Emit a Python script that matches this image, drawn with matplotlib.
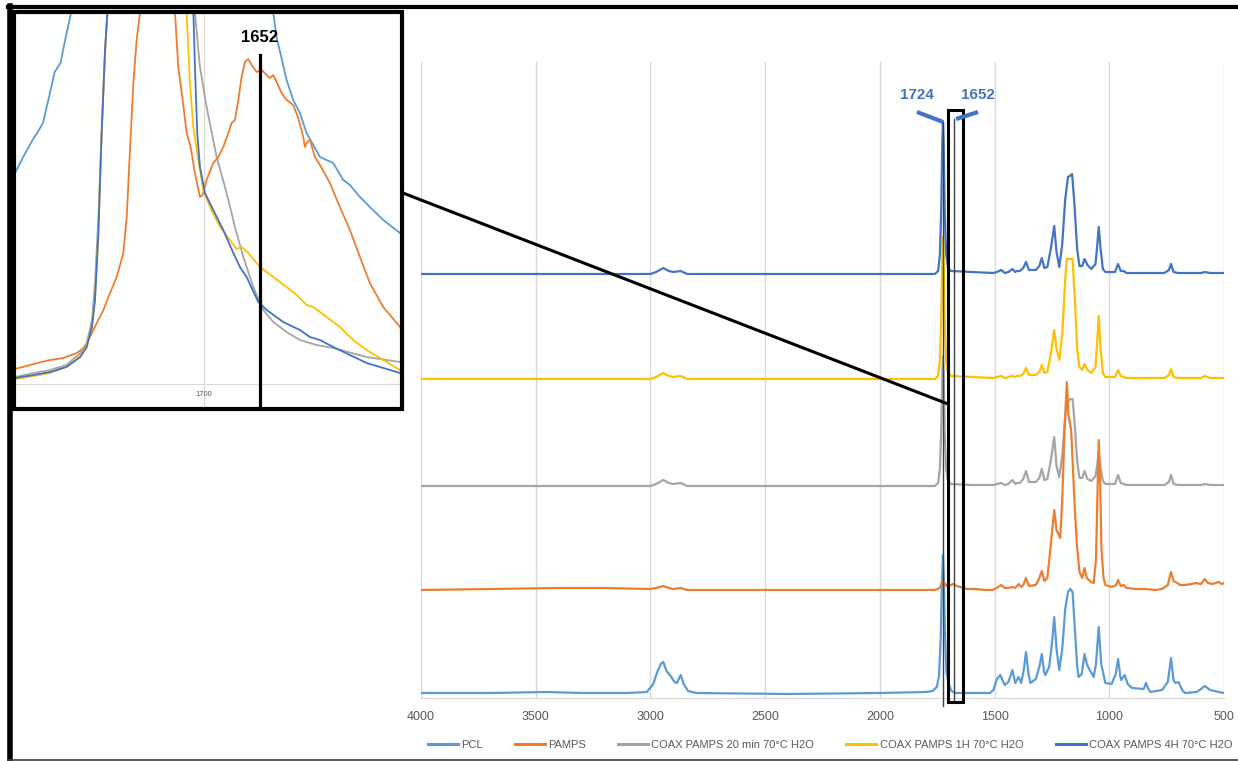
import matplotlib
matplotlib.use("Agg")
import matplotlib.pyplot as plt
import numpy as np
from matplotlib.lines import Line2D
from matplotlib.patches import Rectangle

plt.rcParams["font.family"] = ["Liberation Sans", "DejaVu Sans"]

# %% data (y in arbitrary absorbance units)

LABELS = ["PCL", "PAMPS", "COAX PAMPS 20 min 70°C H2O",
          "COAX PAMPS 1H 70°C H2O", "COAX PAMPS 4H 70°C H2O"]
COLORS = ["#5B9BD5", "#ED7D31", "#A5A5A5", "#FFC000", "#4472C4"]
OFFSETS = [0.04, 1.08, 2.12, 3.19, 4.24]

PCL_WN = [4000, 3700, 3450, 3300, 3100, 3016, 2988, 2970, 2955, 2944, 2930, 2912, 2895,
          2885, 2868, 2855, 2836, 2800, 2400, 2000, 1800, 1770, 1752, 1742, 1735, 1729,
          1725, 1721, 1716, 1710, 1700, 1688, 1670, 1520, 1505, 1490, 1475, 1456, 1440,
          1422, 1410, 1395, 1384, 1372, 1363, 1352, 1344, 1320, 1304, 1294, 1284, 1279,
          1262, 1250, 1240, 1230, 1218, 1205, 1192, 1180, 1170, 1160, 1150, 1140, 1134,
          1120, 1108, 1098, 1090, 1068, 1058, 1046, 1035, 1017, 990, 972, 962, 952, 948,
          933, 920, 901, 850, 840, 830, 821, 770, 745, 731, 720, 712, 698, 680, 669, 620,
          600, 584, 560, 523, 500]
PCL_A = [0.01, 0.01, 0.02, 0.01, 0.01, 0.02, 0.10, 0.22, 0.30, 0.32, 0.23, 0.18, 0.12,
         0.11, 0.19, 0.10, 0.03, 0.01, 0.00, 0.01, 0.02, 0.03, 0.07, 0.18, 0.55, 1.15,
         1.39, 1.15, 0.60, 0.22, 0.10, 0.03, 0.01, 0.01, 0.04, 0.15, 0.19, 0.09, 0.12,
         0.24, 0.11, 0.17, 0.11, 0.25, 0.42, 0.20, 0.11, 0.15, 0.28, 0.40, 0.22, 0.19,
         0.27, 0.50, 0.77, 0.45, 0.24, 0.45, 0.85, 1.02, 1.05, 1.02, 0.65, 0.28, 0.17,
         0.20, 0.40, 0.30, 0.26, 0.17, 0.30, 0.67, 0.30, 0.11, 0.10, 0.20, 0.35, 0.18, 0.14,
         0.19, 0.10, 0.06, 0.05, 0.11, 0.05, 0.02, 0.04, 0.12, 0.36, 0.14, 0.11, 0.12, 0.03,
         0.01, 0.02, 0.05, 0.08, 0.04, 0.02, 0.01]

PAMPS_WN = [4000, 3700, 3400, 3200, 3000, 2975, 2944, 2920, 2900, 2868, 2840, 2000, 1760,
            1740, 1730, 1724, 1718, 1710, 1700, 1690, 1680, 1665, 1650, 1620, 1580, 1540,
            1510, 1490, 1471, 1455, 1440, 1422, 1410, 1395, 1384, 1375, 1363, 1350, 1320,
            1305, 1294, 1283, 1270, 1255, 1240, 1230, 1214, 1205, 1195, 1185, 1178, 1166,
            1160, 1150, 1141, 1130, 1118, 1108, 1098, 1080, 1068, 1058, 1052, 1046, 1040,
            1034, 1025, 1017, 990, 970, 962, 950, 937, 925, 880, 840, 800, 770, 745, 731,
            720, 712, 690, 669, 640, 625, 600, 584, 570, 550, 523, 510, 500]
PAMPS_A = [0.00, 0.01, 0.02, 0.02, 0.01, 0.02, 0.04, 0.02, 0.01, 0.02, 0.00, 0.00, 0.00,
           0.02, 0.07, 0.09, 0.07, 0.04, 0.04, 0.05, 0.06, 0.04, 0.03, 0.01, 0.01, 0.00,
           0.00, 0.02, 0.05, 0.02, 0.02, 0.03, 0.02, 0.06, 0.03, 0.05, 0.12, 0.04, 0.05,
           0.12, 0.19, 0.09, 0.12, 0.45, 0.80, 0.60, 0.52, 0.90, 1.60, 2.08, 1.75, 1.60,
           1.30, 0.80, 0.45, 0.18, 0.12, 0.22, 0.12, 0.08, 0.07, 0.30, 0.90, 1.50, 1.10,
           0.40, 0.12, 0.05, 0.03, 0.05, 0.10, 0.04, 0.05, 0.02, 0.01, 0.01, 0.00, 0.01,
           0.05, 0.18, 0.09, 0.08, 0.05, 0.05, 0.06, 0.07, 0.06, 0.11, 0.07, 0.06, 0.08,
           0.06, 0.07]

MIN20_WN = [4000, 3000, 2975, 2944, 2920, 2900, 2868, 2840, 1760, 1746, 1738, 1732, 1728,
            1725, 1722, 1717, 1711, 1703, 1690, 1600, 1505, 1490, 1471, 1455, 1440, 1422,
            1410, 1403, 1390, 1375, 1363, 1350, 1320, 1305, 1294, 1283, 1270, 1255, 1240,
            1230, 1218, 1205, 1192, 1178, 1170, 1160, 1150, 1140, 1130, 1118, 1108, 1095,
            1078, 1060, 1052, 1046, 1038, 1028, 1017, 975, 962, 950, 937, 925, 840, 760,
            740, 731, 720, 700, 600, 584, 560, 500]
MIN20_A = [0.00, 0.00, 0.02, 0.06, 0.03, 0.02, 0.03, 0.00, 0.00, 0.03, 0.18, 0.60, 1.10,
           1.30, 1.10, 0.50, 0.17, 0.05, 0.02, 0.01, 0.01, 0.02, 0.03, 0.01, 0.02, 0.06,
           0.02, 0.03, 0.03, 0.07, 0.15, 0.04, 0.04, 0.08, 0.17, 0.06, 0.07, 0.25, 0.49,
           0.20, 0.09, 0.30, 0.70, 0.85, 0.87, 0.87, 0.60, 0.25, 0.08, 0.08, 0.15, 0.07,
           0.05, 0.10, 0.22, 0.34, 0.18, 0.05, 0.02, 0.02, 0.11, 0.03, 0.02, 0.01, 0.01,
           0.01, 0.04, 0.11, 0.02, 0.01, 0.01, 0.02, 0.01, 0.01]

H1_WN = [4000, 3000, 2975, 2944, 2920, 2900, 2868, 2840, 1760, 1746, 1738, 1732, 1728,
         1725, 1722, 1717, 1711, 1703, 1690, 1600, 1505, 1490, 1471, 1455, 1440, 1422,
         1410, 1403, 1390, 1375, 1363, 1350, 1320, 1305, 1294, 1283, 1270, 1255, 1240,
         1230, 1218, 1205, 1192, 1185, 1160, 1150, 1140, 1130, 1118, 1108, 1095, 1078,
         1060, 1052, 1046, 1038, 1028, 1017, 975, 962, 950, 937, 925, 840, 760, 740,
         731, 720, 700, 600, 584, 560, 500]
H1_A = [0.00, 0.00, 0.02, 0.06, 0.03, 0.02, 0.03, 0.00, 0.00, 0.03, 0.20, 0.65, 1.20,
        1.42, 1.20, 0.55, 0.18, 0.06, 0.03, 0.02, 0.01, 0.02, 0.03, 0.01, 0.02, 0.03,
        0.02, 0.03, 0.03, 0.05, 0.11, 0.04, 0.04, 0.07, 0.14, 0.06, 0.07, 0.25, 0.49,
        0.30, 0.19, 0.45, 1.00, 1.20, 1.20, 0.80, 0.30, 0.12, 0.09, 0.15, 0.09, 0.06,
        0.12, 0.40, 0.63, 0.30, 0.06, 0.02, 0.02, 0.09, 0.03, 0.02, 0.01, 0.01, 0.01,
        0.04, 0.10, 0.02, 0.01, 0.01, 0.03, 0.01, 0.01]

H4_WN = [4000, 3000, 2975, 2944, 2920, 2900, 2868, 2840, 1760, 1746, 1738, 1732, 1728,
         1725, 1722, 1717, 1711, 1703, 1690, 1600, 1505, 1490, 1471, 1455, 1440, 1422,
         1410, 1403, 1390, 1375, 1363, 1350, 1320, 1305, 1294, 1283, 1270, 1255, 1240,
         1230, 1218, 1205, 1192, 1180, 1172, 1162, 1152, 1140, 1130, 1118, 1108, 1095,
         1078, 1060, 1052, 1046, 1038, 1028, 1017, 975, 962, 950, 937, 925, 840, 760,
         740, 731, 720, 700, 600, 584, 560, 500]
H4_A = [0.00, 0.00, 0.02, 0.06, 0.03, 0.02, 0.03, 0.00, 0.00, 0.03, 0.20, 0.70, 1.30,
        1.52, 1.30, 0.60, 0.20, 0.06, 0.03, 0.02, 0.01, 0.02, 0.04, 0.01, 0.02, 0.05,
        0.02, 0.03, 0.03, 0.06, 0.12, 0.04, 0.04, 0.08, 0.16, 0.06, 0.07, 0.25, 0.48,
        0.22, 0.07, 0.30, 0.75, 0.97, 0.98, 1.00, 0.70, 0.25, 0.08, 0.08, 0.15, 0.09,
        0.05, 0.10, 0.30, 0.47, 0.25, 0.05, 0.02, 0.02, 0.10, 0.03, 0.03, 0.01, 0.01,
        0.01, 0.04, 0.10, 0.02, 0.01, 0.01, 0.02, 0.01, 0.01]

SERIES_WN = [PCL_WN, PAMPS_WN, MIN20_WN, H1_WN, H4_WN]
SERIES_A = [PCL_A, PAMPS_A, MIN20_A, H1_A, H4_A]
ZORDERS = [2.0, 2.2, 2.1, 2.3, 2.4]

XTICKS = [4000, 3500, 3000, 2500, 2000, 1500, 1000, 500]
PEAK_MARK = 1724          # thin marker through the C=O peak
BAND_LABELS = ["1724", "1652"]
BOX_WN = (1704, 1639)     # highlighted band in the main chart
BOX_MARK = 1677           # thin line inside the highlighted band

# inset (zoom on the carbonyl region)
IN_PCL_WN = [1862, 1855, 1846, 1843, 1838, 1832, 1828, 1823, 1819, 1814, 1790, 1730,
             1680, 1640.5, 1637.7, 1629.1, 1623.4, 1617.7, 1612, 1600.5, 1589.1, 1580.5,
             1574.8, 1566.2, 1557.7, 1546.2, 1531.9]
IN_PCL_A = [2.11, 2.27, 2.46, 2.51, 2.61, 2.91, 3.12, 3.21, 3.44, 3.71, 4.6, 6.0,
            4.6, 3.71, 3.47, 3.04, 2.84, 2.71, 2.51, 2.27, 2.21, 2.04,
            1.99, 1.87, 1.77, 1.64, 1.51]

IN_PAMPS_WN = [1862, 1846, 1832, 1820.5, 1809, 1802, 1794.8, 1786.2, 1780.5, 1774.8,
               1769.1, 1766.2, 1763.4, 1760.5, 1757.7, 1754.8, 1740, 1724.8, 1722, 1718.2,
               1714.8, 1711.4, 1707.7, 1703.4, 1701.1, 1697.7, 1692, 1687.7, 1683.4,
               1679.1, 1676.2, 1673.4, 1670.5, 1667.7, 1664.8, 1662, 1659.1, 1654.8,
               1650.5, 1646.2, 1643.4, 1640.5, 1637.7, 1633.4, 1629.1, 1623.4, 1619.1,
               1614.8, 1613.4, 1612, 1609.1, 1604.8, 1600.5, 1592, 1583.4, 1574.8, 1566.2,
               1557.7, 1546.2, 1531.9]
IN_PAMPS_A = [0.15, 0.20, 0.24, 0.26, 0.31, 0.37, 0.54, 0.74, 0.91, 1.07,
              1.31, 1.67, 2.34, 3.01, 3.44, 3.71, 5.5, 3.71, 3.17, 2.84,
              2.51, 2.37, 2.11, 1.87, 1.89, 2.04, 2.21, 2.27, 2.37,
              2.51, 2.61, 2.64, 2.84, 3.07, 3.22, 3.25, 3.19, 3.12,
              3.14, 3.09, 3.06, 3.09, 3.02, 2.91, 2.84, 2.79, 2.66,
              2.47, 2.37, 2.41, 2.44, 2.27, 2.19, 2.01, 1.77, 1.54, 1.27,
              1.01, 0.77, 0.57]

IN_MIN20_WN = [1862, 1846, 1832, 1818, 1806, 1800.5, 1796, 1793.4, 1790.5, 1787.7,
               1784.8, 1782.8, 1750, 1707.7, 1703.4, 1697.7, 1689.1, 1680.5, 1673.4,
               1666.2, 1657.7, 1649.1, 1640.5, 1629.1, 1617.7, 1603.4, 1589.1, 1560.5,
               1531.9]
IN_MIN20_A = [0.07, 0.11, 0.14, 0.19, 0.31, 0.41, 0.64, 1.01, 1.67, 2.51,
              3.34, 3.71, 6.0, 3.71, 3.17, 2.77, 2.27, 1.91, 1.57,
              1.27, 0.97, 0.74, 0.62, 0.52, 0.44, 0.39, 0.36, 0.27,
              0.22]

IN_H1_WN = [1862, 1846, 1832, 1818, 1806, 1800.5, 1796, 1793.4, 1790.5, 1787.7, 1784.8,
            1782.8, 1750, 1714.8, 1712, 1709.1, 1704.8, 1700.5, 1694.8, 1686.2, 1677.7,
            1672, 1667.7, 1662, 1651.9, 1640.5, 1629.1, 1620.5, 1612, 1606.2, 1594.8,
            1583.4, 1572, 1560.5, 1546.2, 1531.9]
IN_H1_A = [0.05, 0.08, 0.11, 0.17, 0.28, 0.38, 0.58, 0.86, 1.50, 2.50, 3.30,
           3.71, 6.0, 3.71, 3.01, 2.57, 2.24, 1.94, 1.77, 1.57, 1.44,
           1.35, 1.37, 1.31, 1.17, 1.07, 0.97, 0.89, 0.79, 0.77, 0.67,
           0.57, 0.44, 0.34, 0.24, 0.14]

IN_H4_WN = [1862, 1846, 1832, 1818, 1806, 1800.5, 1796, 1793.4, 1790.5, 1787.7, 1784.8,
            1782.8, 1750, 1709, 1707.7, 1705.7, 1703.4, 1699.1, 1692, 1683.4, 1674.8,
            1669.1, 1663.4, 1653.4, 1646.2, 1632, 1617.7, 1609.1, 1600.5, 1589.1,
            1574.8, 1560.5, 1546.2, 1531.9]
IN_H4_A = [0.06, 0.09, 0.12, 0.17, 0.27, 0.37, 0.57, 0.84, 1.51, 2.51, 3.34,
           3.71, 6.0, 3.71, 3.17, 2.51, 2.17, 1.91, 1.74, 1.54, 1.31,
           1.17, 1.07, 0.82, 0.74, 0.62, 0.54, 0.47, 0.44, 0.37,
           0.29, 0.21, 0.16, 0.11]

INSET_WN = [IN_PCL_WN, IN_PAMPS_WN, IN_MIN20_WN, IN_H1_WN, IN_H4_WN]
INSET_A = [IN_PCL_A, IN_PAMPS_A, IN_MIN20_A, IN_H1_A, IN_H4_A]
INSET_TICKS = [1700]
INSET_MARK = 1652

# %% layout helpers (reference picture is 1238 x 761 px)

W, H = 1238, 761


def fx(x):
    return x / W


def fy(y):
    return 1 - y / H


fig = plt.figure(figsize=(W / 100, H / 100), dpi=100)
fig.patch.set_facecolor("white")

GRID = "#D9D9D9"
TXT = "#595959"
BLUE = "#4472C4"

# %% main stacked spectra

ax = fig.add_axes([fx(421), fy(698), (1224 - 421) / W, (698 - 62) / H])
for wn, a, off, c, z, lab in zip(SERIES_WN, SERIES_A, OFFSETS, COLORS, ZORDERS, LABELS):
    ax.plot(wn, np.asarray(a) + off, color=c, lw=1.6, zorder=z, label=lab,
            solid_joinstyle="round")
ax.set_xlim(4000, 500)
ax.set_ylim(0, 6.36)
ax.set_xticks(XTICKS)
ax.set_yticks([])
ax.grid(axis="x", color=GRID, lw=1.0)
ax.set_axisbelow(True)
for side in ("top", "left", "right"):
    ax.spines[side].set_visible(False)
ax.spines["bottom"].set_color(GRID)
ax.tick_params(axis="x", length=0, pad=9, labelsize=9, labelcolor=TXT)

# peak marker, highlighted band and leader labels
ax.plot([PEAK_MARK, PEAK_MARK], [5.76, -0.08], color="#404040", lw=1.0,
        clip_on=False, zorder=4)
ax.plot([BOX_MARK, BOX_MARK], [5.79, -0.03], color="#404040", lw=1.0,
        clip_on=False, zorder=4)
ax.add_patch(Rectangle((BOX_WN[0], -0.04), BOX_WN[1] - BOX_WN[0], 5.92, fill=False,
                       ec="black", lw=2.2, clip_on=False, zorder=5))
ax.plot([1838, PEAK_MARK], [5.86, 5.76], color=BLUE, lw=3, solid_capstyle="butt",
        clip_on=False, zorder=5)
ax.plot([1668, 1572], [5.79, 5.86], color=BLUE, lw=3, solid_capstyle="butt",
        clip_on=False, zorder=5)
ax.text(1838, 6.03, BAND_LABELS[0], ha="center", va="center", color=BLUE,
        fontsize=11, fontweight="bold")
ax.text(1572, 6.03, BAND_LABELS[1], ha="center", va="center", color=BLUE,
        fontsize=11, fontweight="bold")

fig.legend(loc="center", bbox_to_anchor=(fx(830), fy(745)), ncol=5, frameon=False,
           fontsize=8, handlelength=2.7, handletextpad=0.3, columnspacing=2.9,
           labelcolor=TXT, handleheight=0.5, borderpad=0, borderaxespad=0)
for line in fig.legends[0].get_lines():
    line.set_linewidth(2.2)

# %% inset zoom

axin = fig.add_axes([fx(15), fy(408), (401 - 15) / W, (408 - 13) / H])
for wn, a, c, z in zip(INSET_WN, INSET_A, COLORS, ZORDERS):
    axin.plot(wn, a, color=c, lw=1.3, zorder=z, solid_joinstyle="round")
axin.set_xlim(1862, 1531)
axin.set_ylim(-0.24, 3.71)
axin.set_xticks(INSET_TICKS)
axin.set_yticks([])
axin.grid(axis="x", color=GRID, lw=0.8)
axin.set_axisbelow(True)
for side in ("top", "left", "right"):
    axin.spines[side].set_visible(False)
axin.spines["bottom"].set_position(("data", 0))
axin.spines["bottom"].set_color(GRID)
axin.tick_params(axis="x", length=0, pad=5, labelsize=5.5, labelcolor=TXT)
axin.plot([INSET_MARK, INSET_MARK], [3.29, -0.24], color="black", lw=2.3, zorder=5)
axin.text(INSET_MARK, 3.46, str(INSET_MARK), ha="center", va="center",
          fontsize=12, fontweight="bold", color="black")

# %% frames and connector

fig.add_artist(Rectangle((fx(14), fy(409)), (402 - 14) / W, (409 - 12) / H,
                         transform=fig.transFigure, fill=False, ec="black", lw=3))
fig.add_artist(Line2D([fx(403), fx(948)], [fy(193), fy(404)], color="black", lw=2.2))
fig.add_artist(Line2D([fx(8), fx(1238)], [fy(7), fy(7)], color="black", lw=3))
fig.add_artist(Line2D([fx(10), fx(10)], [fy(6), fy(761)], color="black", lw=4))
fig.add_artist(Line2D([fx(8), fx(1238)], [fy(759.5), fy(759.5)], color="#404040", lw=1.2))

fig.savefig("out.png", dpi=100)
